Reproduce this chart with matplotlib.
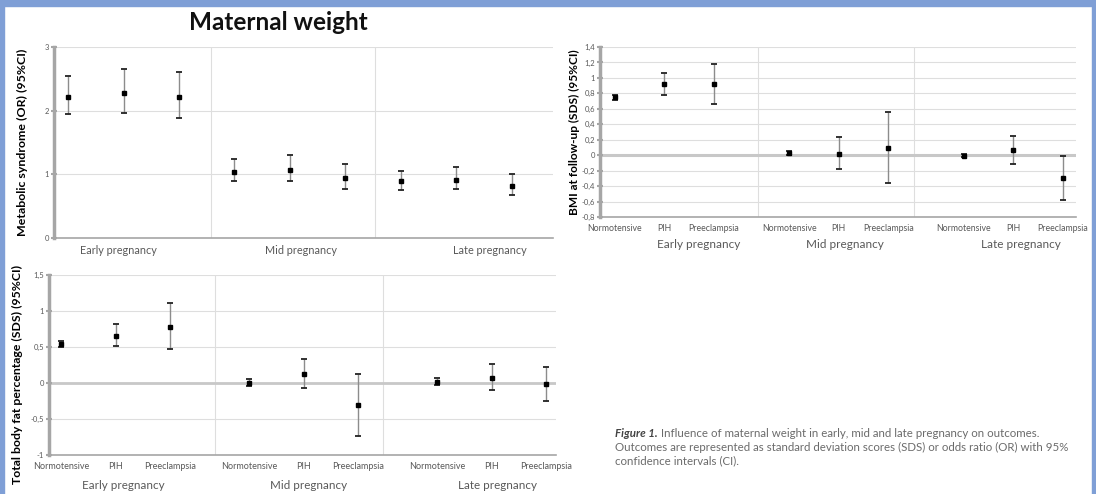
import matplotlib
matplotlib.use("Agg")
import matplotlib.pyplot as plt
from matplotlib.patches import Rectangle

plt.rcParams['font.family'] = ['Lato', 'DejaVu Sans']

groups = ['Early pregnancy', 'Mid pregnancy', 'Late pregnancy']
cats = ['Normotensive', 'PIH', 'Preeclampsia']

# metabolic syndrome OR (95% CI)
ms_mean = [2.22, 2.28, 2.22, 1.04, 1.07, 0.94, 0.89, 0.91, 0.82]
ms_lo = [1.95, 1.96, 1.89, 0.89, 0.90, 0.77, 0.76, 0.77, 0.67]
ms_hi = [2.54, 2.66, 2.61, 1.24, 1.30, 1.16, 1.05, 1.11, 1.00]

# BMI at follow-up SDS
bmi_mean = [0.75, 0.917, 0.917, 0.028, 0.019, 0.097, -0.006, 0.063, -0.296]
bmi_lo = [0.72, 0.774, 0.658, 0.00, -0.179, -0.36, -0.03, -0.119, -0.585]
bmi_hi = [0.78, 1.063, 1.184, 0.06, 0.235, 0.563, 0.02, 0.244, -0.011]

# total body fat percentage SDS
fat_mean = [0.54, 0.657, 0.782, 0.005, 0.13, -0.31, 0.02, 0.074, -0.019]
fat_lo = [0.50, 0.514, 0.472, -0.042, -0.069, -0.736, -0.028, -0.10, -0.25]
fat_hi = [0.58, 0.815, 1.106, 0.056, 0.333, 0.12, 0.065, 0.26, 0.218]

bmi_ticks = [1.4, 1.2, 1, 0.8, 0.6, 0.4, 0.2, 0, -0.2, -0.4, -0.6, -0.8]
fat_ticks = [1.5, 1, 0.5, 0, -0.5, -1]
ms_ticks = [0, 1, 2, 3]

GRID = '#dedede'
AXC = '#a6a6a6'
TXT = '#595959'


def fmt(v):
    s = ('%g' % v).replace('.', ',')
    return s


def style(ax, ticks):
    for s in ['top', 'right']:
        ax.spines[s].set_visible(False)
    ax.spines['left'].set_color(AXC)
    ax.spines['left'].set_linewidth(2.5)
    ax.spines['bottom'].set_color(AXC)
    ax.spines['bottom'].set_linewidth(1.2)
    ax.set_yticks(ticks)
    ax.set_yticklabels([fmt(t) for t in ticks])
    ax.tick_params(axis='y', direction='inout', length=5, width=1.5, color=AXC,
                   labelsize=5.5, labelcolor=TXT, pad=1)
    for t in ticks:
        ax.axhline(t, color=GRID, lw=0.8, zorder=0)


def draw(ax, xs, mean, lo, hi):
    yerr = [[m - l for m, l in zip(mean, lo)], [h - m for m, h in zip(mean, hi)]]
    ax.errorbar(xs, mean, yerr=yerr, fmt='s', color='black', ms=3.0,
                ecolor='#8c8c8c', elinewidth=1.0, capsize=0, zorder=3)
    ax.plot(xs, lo, '_', color='#222222', ms=5, mew=1.3, zorder=3)
    ax.plot(xs, hi, '_', color='#222222', ms=5, mew=1.3, zorder=3)


fig = plt.figure(figsize=(10.96, 4.94), dpi=100)
fig.patch.set_facecolor('white')

W, H = 1096.0, 494.0


def box(l, t, r, b):
    return [l / W, 1 - b / H, (r - l) / W, (b - t) / H]


# ---- panel 1: metabolic syndrome
ax1 = fig.add_axes(box(53.6, 47, 553, 238))
x1 = list(range(1, 10))
draw(ax1, x1, ms_mean, ms_lo, ms_hi)
ax1.set_xlim(0.74, 9.74)
ax1.set_ylim(0, 3)
style(ax1, ms_ticks)
for s in [3.58, 6.53]:
    ax1.axvline(s, color=GRID, lw=0.8, zorder=0)
ax1.set_xticks([])
for g, xc in zip(groups, [1.9, 5.2, 8.6]):
    ax1.text(xc, -0.065, g, ha='center', va='center', fontsize=7.8, color=TXT,
             transform=ax1.get_xaxis_transform())
ax1.set_ylabel('Metabolic syndrome (OR) (95%CI)', fontsize=8.9,
               fontweight='bold')
ax1.yaxis.set_label_coords(-0.052, 0.5)

# ---- panel 2: BMI
ax2 = fig.add_axes(box(600, 47, 1076, 217))
x2 = [g * 3.52 + k for g in range(3) for k in range(3)]
draw(ax2, x2, bmi_mean, bmi_lo, bmi_hi)
ax2.set_xlim(-0.30, 9.31)
ax2.set_ylim(-0.8, 1.4)
style(ax2, bmi_ticks)
ax2.axhline(0, color='#c8c8c8', lw=2.2, zorder=1)
for s in [2.89, 6.04]:
    ax2.axvline(s, color=GRID, lw=0.8, zorder=0)
ax2.set_xticks(x2)
ax2.set_xticklabels(cats * 3)
ax2.tick_params(axis='x', length=0, labelsize=6.3, labelcolor=TXT, pad=5)
for g, xc in zip(groups, [1.7, 4.65, 8.2]):
    ax2.text(xc, -0.16, g, ha='center', va='center', fontsize=8.5, color=TXT,
             transform=ax2.get_xaxis_transform())
ax2.set_ylabel('BMI at follow-up (SDS) (95%CI)', fontsize=8.6,
               fontweight='bold')
ax2.yaxis.set_label_coords(-0.042, 0.5)

# ---- panel 3: total body fat
ax3 = fig.add_axes(box(49, 275, 556, 455))
x3 = [g * 3.45 + k for g in range(3) for k in range(3)]
draw(ax3, x3, fat_mean, fat_lo, fat_hi)
ax3.set_xlim(-0.22, 9.08)
ax3.set_ylim(-1, 1.5)
style(ax3, fat_ticks)
ax3.axhline(0, color='#c8c8c8', lw=2.0, zorder=1)
for s in [2.83, 5.91]:
    ax3.axvline(s, color=GRID, lw=0.8, zorder=0)
ax3.set_xticks(x3)
ax3.set_xticklabels(cats * 3)
ax3.tick_params(axis='x', length=0, labelsize=6.5, labelcolor=TXT, pad=5)
for g, xc in zip(groups, [1.15, 4.55, 8.0]):
    ax3.text(xc, -0.167, g, ha='center', va='center', fontsize=8.4, color=TXT,
             transform=ax3.get_xaxis_transform())
ax3.set_ylabel('Total body fat percentage (SDS) (95%CI)', fontsize=8.8,
               fontweight='bold')
ax3.yaxis.set_label_coords(-0.052, 0.45)

# title
fig.text(278 / W, 1 - 22 / H, 'Maternal weight', ha='center', va='center',
         fontsize=17.5, fontweight='bold', color='#111111')

# caption
CAP = 8.3
t1 = fig.text(615 / W, 1 - 433 / H, 'Figure 1.', fontsize=CAP,
              fontweight='bold', style='italic', color='#444444', va='center')
plt.annotate(' Influence of maternal weight in early, mid and late pregnancy on outcomes.',
             xy=(1, 0.5), xycoords=t1, va='center', fontsize=CAP, color='#6b6b6b')
fig.text(615 / W, 1 - 447 / H,
         'Outcomes are represented as standard deviation scores (SDS) or odds ratio (OR) with 95%',
         fontsize=CAP, color='#6b6b6b', va='center')
fig.text(615 / W, 1 - 461 / H, 'confidence intervals (CI).', fontsize=CAP,
         color='#6b6b6b', va='center')

# blue frame
BLUE = '#7f9fd6'
fig.patches.append(Rectangle((0, 1 - 6 / H), 1, 6 / H, transform=fig.transFigure,
                             color=BLUE, zorder=10))
fig.patches.append(Rectangle((0, 0), 3.5 / W, 1, transform=fig.transFigure,
                             color=BLUE, zorder=10))
fig.patches.append(Rectangle((1 - 4 / W, 0), 4 / W, 1, transform=fig.transFigure,
                             color=BLUE, zorder=10))

fig.savefig('out.png', dpi=100)
